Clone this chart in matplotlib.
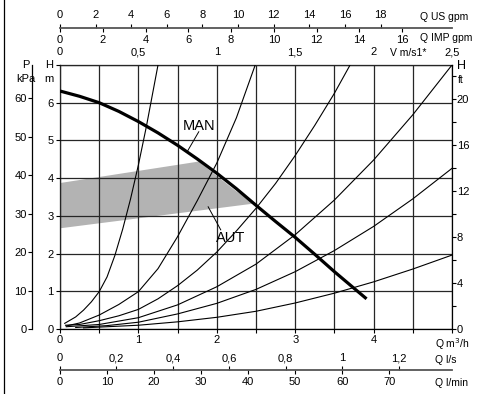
import numpy as np
import matplotlib.pyplot as plt
from matplotlib.lines import Line2D

plt.rcParams['font.family'] = ['Liberation Sans Narrow', 'Liberation Sans', 'DejaVu Sans']
plt.rcParams['font.size'] = 8

# pump curve MAN (Q m3/h, H m)
man_q = [0, 0.25, 0.5, 0.75, 1.0, 1.25, 1.5, 1.75, 2.0, 2.25, 2.5, 2.75, 3.0, 3.25, 3.5, 3.75, 3.91]
man_h = [6.31, 6.17, 6.0, 5.77, 5.5, 5.2, 4.87, 4.51, 4.13, 3.72, 3.28, 2.85, 2.43, 1.98, 1.52, 1.08, 0.80]

# AUT band
band_q = [0, 1.77, 2.0, 2.25, 2.49, 0]
band_h = [3.87, 4.44, 4.06, 3.65, 3.33, 2.67]

# system curves
sys_curves = [
    ([0.06, 0.2, 0.3, 0.4, 0.5, 0.6, 0.7, 0.8, 0.9, 1.0, 1.1, 1.2, 1.25],
     [0.15, 0.32, 0.5, 0.72, 0.99, 1.38, 1.95, 2.65, 3.45, 4.35, 5.35, 6.45, 7.0]),
    ([0.08, 0.25, 0.5, 0.75, 1.0, 1.25, 1.5, 1.75, 2.0, 2.25, 2.49],
     [0.08, 0.16, 0.37, 0.65, 0.99, 1.6, 2.45, 3.4, 4.4, 5.6, 7.0]),
    ([0.07, 0.25, 0.5, 0.75, 1.0, 1.25, 1.5, 1.75, 2.0, 2.25, 2.5, 2.75, 3.0, 3.25, 3.5, 3.7],
     [0.1, 0.12, 0.22, 0.35, 0.52, 0.8, 1.15, 1.56, 2.04, 2.6, 3.2, 3.86, 4.6, 5.4, 6.25, 7.0]),
    ([0.08, 0.5, 1.0, 1.5, 2.0, 2.5, 3.0, 3.5, 4.0, 4.5, 5.0],
     [0.06, 0.12, 0.3, 0.64, 1.12, 1.72, 2.5, 3.42, 4.48, 5.68, 7.0]),
    ([0.2, 0.6, 1.0, 1.5, 2.0, 2.5, 3.0, 3.5, 4.0, 4.5, 5.0],
     [0.04, 0.09, 0.18, 0.4, 0.68, 1.05, 1.52, 2.08, 2.72, 3.45, 4.26]),
    ([0.3, 1.0, 1.5, 2.0, 2.5, 3.0, 3.5, 4.0, 4.5, 5.0],
     [0.03, 0.1, 0.19, 0.31, 0.47, 0.69, 0.95, 1.25, 1.59, 1.96]),
]

q_ticks = [0, 0.5, 1, 1.5, 2, 2.5, 3, 3.5, 4, 4.5, 5]
q_labels = ['0', '', '1', '', '2', '', '3', '', '4', '', '']
h_ticks = [0, 1, 2, 3, 4, 5, 6, 7]
h_labels = ['0', '1', '2', '3', '4', '5', '6', '']
kpa_ticks = [0, 10, 20, 30, 40, 50, 60]
ft_ticks = [0, 4, 8, 12, 16, 20]
ft_minor = [2, 6, 10, 14, 18, 22]
v_ticks = [0, 0.5, 1, 1.5, 2, 2.5]
v_labels = ['0', '0,5', '1', '1,5', '2', '2,5']
us_ticks = [0, 2, 4, 6, 8, 10, 12, 14, 16, 18]
imp_ticks = [0, 2, 4, 6, 8, 10, 12, 14, 16]
ls_ticks = [0, 0.2, 0.4, 0.6, 0.8, 1.0, 1.2]
ls_labels = ['0', '0,2', '0,4', '0,6', '0,8', '1', '1,2']
lmin_ticks = [0, 10, 20, 30, 40, 50, 60, 70]

W, H = 480, 394
fig = plt.figure(figsize=(W / 100, H / 100), dpi=100)
rect = [60 / W, 1 - 329 / H, 392 / W, 264 / H]

ax = fig.add_axes(rect)
ax.set_xlim(0, 5)
ax.set_ylim(0, 7)
ax.fill(band_q, band_h, color='#b3b3b3', lw=0, zorder=1)
for q, h in sys_curves:
    ax.plot(q, h, color='k', lw=0.8, zorder=3)
ax.plot(man_q, man_h, color='k', lw=2.3, solid_capstyle='butt', zorder=4)
ax.set_xticks(q_ticks, labels=q_labels)
ax.set_yticks(h_ticks, labels=h_labels)
ax.grid(True, color='#262626', lw=0.9)
ax.set_axisbelow(False)
ax.tick_params(axis='both', direction='out', length=3, width=0.8, pad=1.5)
for s in ax.spines.values():
    s.set_linewidth(0.9)

# MAN / AUT labels
ax.text(1.77, 5.39, 'MAN', fontsize=10.5, ha='center', va='center')
ax.plot([1.77, 1.63], [5.23, 4.73], color='k', lw=0.7, zorder=5)
ax.text(2.18, 2.41, 'AUT', fontsize=10.5, ha='center', va='center')
ax.plot([2.05, 1.89], [2.63, 3.24], color='k', lw=0.7, zorder=5)

# right axis in ft
axr = ax.twinx()
axr.set_ylim(0, 7 / 0.3048)
axr.set_yticks(ft_ticks)
axr.set_yticks(ft_minor, minor=True)
axr.tick_params(axis='y', which='both', direction='out', length=3, width=0.8, pad=0.5)
for s in axr.spines.values():
    s.set_visible(False)

# left axis in kPa
axp = ax.twinx()
axp.set_ylim(0, 7 * 9.80665)
axp.yaxis.set_ticks_position('left')
axp.yaxis.set_label_position('left')
axp.spines['left'].set_position(('outward', 20))
for k in ['top', 'right', 'bottom']:
    axp.spines[k].set_visible(False)
axp.spines['left'].set_visible(True)
axp.spines['left'].set_linewidth(0.9)
axp.set_yticks(kpa_ticks)
axp.tick_params(axis='y', direction='out', length=3, width=0.8, pad=1)

# velocity along top of plot
secv = ax.secondary_xaxis('top', functions=(lambda q: q / 2, lambda v: v * 2))
secv.set_xticks(v_ticks, labels=v_labels)
secv.tick_params(length=0, pad=5.5)
secv.spines['top'].set_visible(False)

# gpm scale at the top
axg = fig.add_axes([60 / W, 1 - 28 / H, 392 / W, 1e-4])
axg.set_xlim(0, 5)
axg.set_yticks([])
axg.set_xticks([])
for k in ['top', 'left', 'right']:
    axg.spines[k].set_visible(False)
axg.spines['bottom'].set_color('#555555')
axg.spines['bottom'].set_linewidth(1.3)
imp = axg.secondary_xaxis('bottom', functions=(lambda q: q * 3.666154, lambda g: g / 3.666154))
imp.set_xticks(imp_ticks)
imp.tick_params(length=3, width=0.8, pad=2)
imp.spines['bottom'].set_visible(False)
us = axg.secondary_xaxis('top', functions=(lambda q: q * 4.402868, lambda g: g / 4.402868))
us.set_xticks(us_ticks)
us.tick_params(length=3, width=0.8, pad=2.5)
us.spines['top'].set_visible(False)

# l/s and l/min scale at the bottom
axl = fig.add_axes([60 / W, 1 - 370 / H, 392 / W, 1e-4])
axl.set_xlim(0, 5)
axl.set_yticks([])
axl.set_xticks([])
for k in ['top', 'left', 'right']:
    axl.spines[k].set_visible(False)
axl.spines['bottom'].set_color('#555555')
axl.spines['bottom'].set_linewidth(1.3)
lmin = axl.secondary_xaxis('bottom', functions=(lambda q: q * 16.6667, lambda l: l / 16.6667))
lmin.set_xticks(lmin_ticks)
lmin.tick_params(length=3, width=0.8, pad=2)
lmin.spines['bottom'].set_visible(False)
ls = axl.secondary_xaxis('top', functions=(lambda q: q / 3.6, lambda l: l * 3.6))
ls.set_xticks(ls_ticks, labels=ls_labels)
ls.tick_params(length=3, width=0.8, pad=2)
ls.spines['top'].set_visible(False)

# unit labels
us_kw = dict(va='center', ha='left', fontsize=7.5)
fig.text(420 / W, 1 - 17 / H, 'Q US gpm', **us_kw)
fig.text(420 / W, 1 - 38 / H, 'Q IMP gpm', **us_kw)
fig.text(390 / W, 1 - 53 / H, 'V m/s1*', **us_kw)
fig.text(435 / W, 1 - 344 / H, 'Q m$^3$/h', **us_kw)
fig.text(435 / W, 1 - 360 / H, 'Q l/s', **us_kw)
fig.text(435 / W, 1 - 383 / H, 'Q l/min', **us_kw)
fig.text(26 / W, 1 - 65 / H, 'P', va='center', ha='center')
fig.text(26 / W, 1 - 79 / H, 'kPa', va='center', ha='center')
fig.text(49 / W, 1 - 65 / H, 'H', va='center', ha='center')
fig.text(49 / W, 1 - 79 / H, 'm', va='center', ha='center')
fig.text(461 / W, 1 - 66 / H, 'H', va='center', ha='center', fontsize=9)
fig.text(461 / W, 1 - 80 / H, 'ft', va='center', ha='center', fontsize=7.5)

fig.add_artist(Line2D([4 / W, 4 / W], [0, 1], transform=fig.transFigure, color='k', lw=0.9))

fig.savefig('out.png', dpi=100)
